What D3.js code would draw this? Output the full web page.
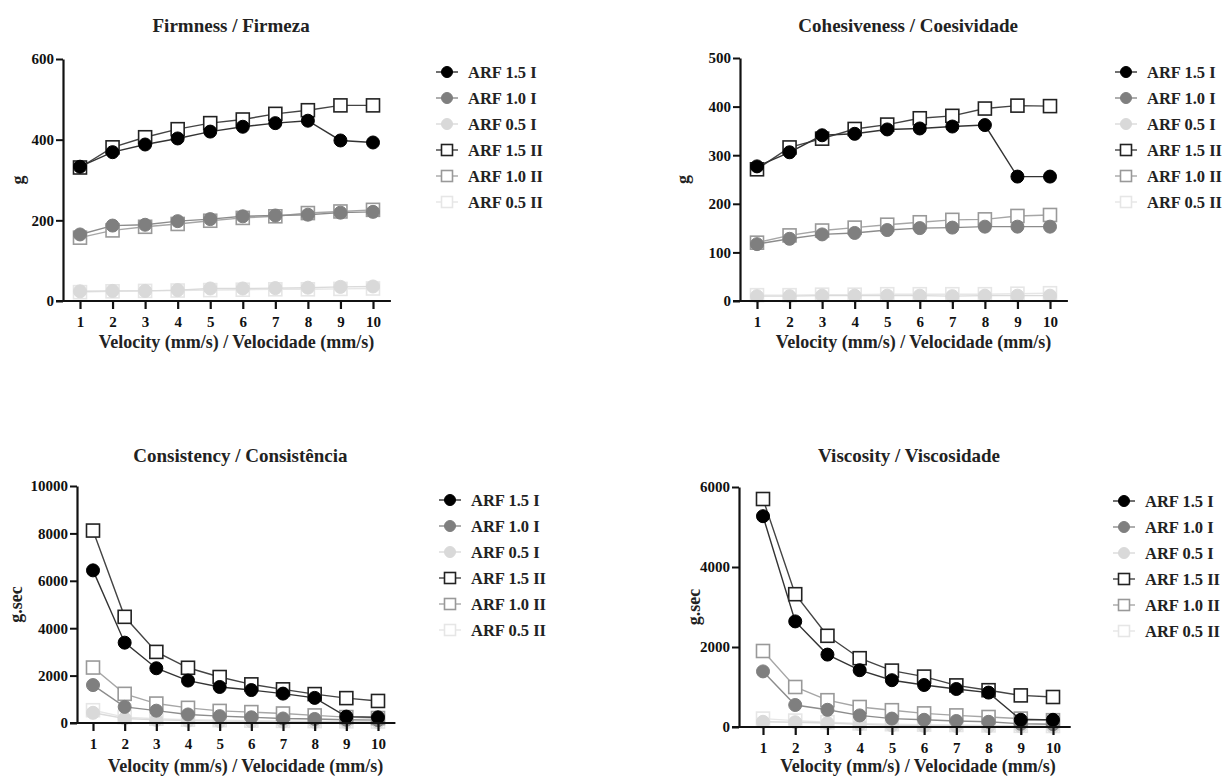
<!DOCTYPE html>
<html>
<head>
<meta charset="utf-8">
<style>
  body { margin: 0; background: #fff; }
  svg text { font-family: "Liberation Serif", "Times New Roman", serif; font-weight: bold; fill: #222; }
  .tick text { font-size: 15px; fill: #111; }
  .title { font-size: 19px; text-anchor: middle; }
  .xlabel { font-size: 18px; text-anchor: middle; }
  .ylabel { font-size: 18px; text-anchor: middle; }
  .legend text { font-size: 16.5px; }
</style>
<script src="https://d3js.org/d3.v7.min.js"></script>
</head>
<body>
<svg width="1223" height="778"></svg>
<script>
var velocity = [1, 2, 3, 4, 5, 6, 7, 8, 9, 10];
var seriesNames = ["ARF 1.5 I", "ARF 1.0 I", "ARF 0.5 I", "ARF 1.5 II", "ARF 1.0 II", "ARF 0.5 II"];

// Firmness (g)
var firm15I  = [333, 369, 388, 403, 420, 432, 441, 447, 398, 393];
var firm10I  = [165, 187, 189, 198, 203, 210, 212, 214, 219, 221];
var firm05I  = [24, 25, 25, 27, 31, 31, 32, 33, 35, 36];
var firm15II = [331, 381, 406, 426, 441, 450, 464, 473, 485, 485];
var firm10II = [157, 175, 184, 191, 199, 206, 210, 218, 222, 226];
var firm05II = [22, 24, 25, 26, 27, 28, 29, 29, 30, 31];

// Cohesiveness (g)
var coh15I  = [277, 306, 341, 344, 353, 355, 359, 362, 256, 256];
var coh10I  = [117, 128, 137, 140, 146, 150, 151, 153, 153, 153];
var coh05I  = [10, 10, 11, 11, 11, 11, 10, 11, 11, 11];
var coh15II = [271, 316, 334, 354, 363, 376, 381, 396, 402, 401];
var coh10II = [120, 135, 145, 151, 157, 162, 167, 168, 175, 177];
var coh05II = [12, 12, 13, 13, 14, 14, 14, 14, 15, 16];

// Consistency (g.sec)
var cons15I  = [6440, 3390, 2310, 1790, 1520, 1390, 1240, 1060, 270, 240];
var cons10I  = [1600, 680, 520, 360, 290, 240, 190, 170, 140, 120];
var cons05I  = [430, 190, 130, 100, 80, 70, 60, 50, 45, 40];
var cons15II = [8120, 4480, 3000, 2330, 1940, 1630, 1420, 1220, 1050, 930];
var cons10II = [2340, 1230, 820, 640, 510, 460, 400, 320, 250, 210];
var cons05II = [540, 250, 180, 140, 120, 100, 90, 80, 70, 60];

// Viscosity (g.sec)
var visc15I  = [5270, 2640, 1810, 1420, 1170, 1050, 950, 860, 180, 180];
var visc10I  = [1390, 550, 430, 290, 210, 180, 150, 130, 80, 70];
var visc05I  = [130, 120, 100, 70, 40, 30, 25, 20, 15, 10];
var visc15II = [5700, 3320, 2280, 1720, 1410, 1260, 1040, 920, 790, 750];
var visc10II = [1900, 1000, 670, 500, 420, 340, 290, 250, 210, 170];
var visc05II = [210, 160, 120, 90, 70, 60, 50, 40, 30, 25];

var firmTicks = [0, 200, 400, 600];
var cohTicks  = [0, 100, 200, 300, 400, 500];
var consTicks = [0, 2000, 4000, 6000, 8000, 10000];
var viscTicks = [0, 2000, 4000, 6000];

var styles = [
  {shape: "circle", fill: "#000", stroke: "#000", line: "#333"},
  {shape: "circle", fill: "#7f7f7f", stroke: "#7f7f7f", line: "#8c8c8c"},
  {shape: "circle", fill: "#d9d9d9", stroke: "#d9d9d9", line: "#dadada"},
  {shape: "square", fill: "#fff", stroke: "#222", line: "#444"},
  {shape: "square", fill: "#fff", stroke: "#999", line: "#a6a6a6"},
  {shape: "square", fill: "#fff", stroke: "#e6e6e6", line: "#e6e6e6"}
];

var panels = [
  {title: "Firmness / Firmeza", ylab: "g", ticks: firmTicks, max: 600,
   series: [firm15I, firm10I, firm05I, firm15II, firm10II, firm05II],
   left: 63, x1: 80, x10: 373, top: 59, bottom: 301, titleY: 32, xlabY: 348,
   legX: 447, legY: 72, ylabX: 24},
  {title: "Cohesiveness / Coesividade", ylab: "g", ticks: cohTicks, max: 500,
   series: [coh15I, coh10I, coh05I, coh15II, coh10II, coh05II],
   left: 740, x1: 757, x10: 1050, top: 58, bottom: 301, titleY: 32, xlabY: 348,
   legX: 1126, legY: 72, ylabX: 689},
  {title: "Consistency / Consistência", ylab: "g.sec", ticks: consTicks, max: 10000,
   series: [cons15I, cons10I, cons05I, cons15II, cons10II, cons05II],
   left: 77, x1: 93, x10: 378, top: 486, bottom: 723, titleY: 462, xlabY: 772,
   legX: 450, legY: 500, ylabX: 22},
  {title: "Viscosity / Viscosidade", ylab: "g.sec", ticks: viscTicks, max: 6000,
   series: [visc15I, visc10I, visc05I, visc15II, visc10II, visc05II],
   left: 739, x1: 763, x10: 1053, top: 487, bottom: 727, titleY: 462, xlabY: 772,
   legX: 1124, legY: 501, ylabX: 700}
];

var svg = d3.select("svg");

function drawMarker(sel, st, half) {
  if (st.shape === "circle") {
    sel.append("circle").attr("r", half)
       .attr("fill", st.fill).attr("stroke", st.stroke);
  } else {
    sel.append("rect").attr("x", -half).attr("y", -half)
       .attr("width", 2 * half).attr("height", 2 * half)
       .attr("fill", st.fill).attr("stroke", st.stroke).attr("stroke-width", 1.6);
  }
}

panels.forEach(function(p) {
  var x = d3.scaleLinear().domain([1, 10]).range([p.x1, p.x10]);
  var y = d3.scaleLinear().domain([0, p.max]).range([p.bottom, p.top]);
  var g = svg.append("g");

  g.append("text").attr("class", "title")
   .attr("x", (p.left + x(10.5)) / 2 + 5).attr("y", p.titleY).text(p.title);

  var line = d3.line().x(function(d, i) { return x(velocity[i]); }).y(function(d) { return y(d); });

  // light series first, dark on top
  [5, 2, 4, 1, 3, 0].forEach(function(s) {
    var st = styles[s];
    var data = p.series[s];
    g.append("path").datum(data).attr("d", line)
     .attr("fill", "none").attr("stroke", st.line).attr("stroke-width", 1.4);
    g.selectAll(null).data(data).enter().append("g")
     .attr("transform", function(d, i) { return "translate(" + x(velocity[i]) + "," + y(d) + ")"; })
     .each(function() { drawMarker(d3.select(this), st, 6.5); });
  });

  // y axis
  var yAxis = g.append("g").attr("transform", "translate(" + p.left + ",0)")
    .call(d3.axisLeft(y).tickValues(p.ticks).tickSize(7).tickSizeOuter(0).tickFormat(d3.format("d")));
  yAxis.select(".domain").attr("stroke", "#111").attr("stroke-width", 2.2);
  yAxis.selectAll(".tick line").attr("stroke", "#111").attr("stroke-width", 2);
  yAxis.selectAll(".tick text").attr("x", -9);

  // x axis
  var xAxis = g.append("g").attr("transform", "translate(0," + p.bottom + ")")
    .call(d3.axisBottom(x).tickValues(velocity).tickSize(8).tickSizeOuter(0).tickPadding(7));
  xAxis.select(".domain").attr("d", "M" + (p.left - 7) + ",0H" + x(10.55))
    .attr("stroke", "#111").attr("stroke-width", 2.2);
  xAxis.selectAll(".tick line").attr("stroke", "#111").attr("stroke-width", 2.2);

  g.append("text").attr("class", "xlabel")
   .attr("x", (x(1) + x(10)) / 2 + 10).attr("y", p.xlabY)
   .text("Velocity (mm/s) / Velocidade (mm/s)");

  g.append("text").attr("class", "ylabel")
   .attr("transform", "translate(" + p.ylabX + "," + ((p.top + p.bottom) / 2) + ") rotate(-90)")
   .text(p.ylab);

  // legend
  var leg = g.append("g").attr("class", "legend");
  seriesNames.forEach(function(name, i) {
    var st = styles[i];
    var row = leg.append("g").attr("transform", "translate(" + p.legX + "," + (p.legY + i * 26) + ")");
    row.append("line").attr("x1", -11).attr("x2", 11)
       .attr("stroke", st.line).attr("stroke-width", 1.4);
    drawMarker(row.append("g"), st, 5.5);
    row.append("text").attr("x", 21).attr("y", 5.5).text(name);
  });
});
</script>
</body>
</html>
